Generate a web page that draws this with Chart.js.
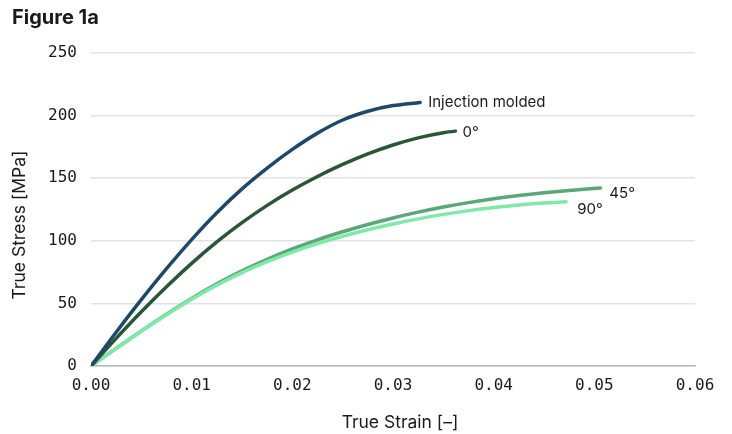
<!DOCTYPE html>
<html>
<head>
<meta charset="utf-8">
<script src="https://cdn.jsdelivr.net/npm/chart.js@4.4.0/dist/chart.umd.min.js"></script>
<style>
  body { margin: 0; background: #fff; }
  #wrap { width: 732px; height: 434px; }
</style>
</head>
<body>
<div id="wrap"><canvas id="fig" width="732" height="434"></canvas></div>
<script>
// true stress / true strain curves
const seriesNames = ['Injection molded', '0°', '45°', '90°'];

const injStrain = [0, 0.0025, 0.005, 0.0075, 0.01, 0.0125, 0.015, 0.0175, 0.02, 0.0225, 0.025, 0.0275, 0.03, 0.0327];
const injStress = [0, 27, 53, 77.75, 101, 122.4, 141.5, 158.1, 173, 186, 196.5, 203.5, 208, 210.5];

const deg0Strain = [0, 0.0025, 0.005, 0.0075, 0.01, 0.0125, 0.015, 0.0175, 0.02, 0.0225, 0.025, 0.0275, 0.03, 0.0325, 0.035, 0.0362];
const deg0Stress = [0, 22.1, 43.3, 63.3, 82, 99.1, 114.5, 128.3, 140.5, 151.4, 161, 169.4, 176.5, 182.2, 186.3, 187.6];

const deg45Strain = [0, 0.0025, 0.005, 0.0075, 0.01, 0.0125, 0.015, 0.0175, 0.02, 0.0225, 0.025, 0.0275, 0.03, 0.0325, 0.035, 0.0375, 0.04, 0.0425, 0.045, 0.0475, 0.0506];
const deg45Stress = [0, 14.1, 28, 41.4, 54, 65.6, 76, 85.25, 93.5, 100.8, 107.2, 113, 118.25, 122.9, 127, 130.5, 133.5, 136.1, 138.3, 140.2, 142.1];

const deg90Strain = [0, 0.0025, 0.005, 0.0075, 0.01, 0.0125, 0.015, 0.0175, 0.02, 0.0225, 0.025, 0.0275, 0.03, 0.0325, 0.035, 0.0375, 0.04, 0.0425, 0.045, 0.0472];
const deg90Stress = [0, 14, 27.8, 41, 53.4, 64.6, 74.6, 83.3, 91, 97.8, 103.6, 108.8, 113.4, 117.5, 121.1, 124.1, 126.6, 128.6, 130.1, 131.2];

const xTicks = [0, 0.01, 0.02, 0.03, 0.04, 0.05, 0.06];
const yTicks = [0, 50, 100, 150, 200, 250];

const colors = ['#1e4868', '#2b5537', '#5aa77a', '#7ee9a8'];
// lower order is painted on top, so 90° sits over 45° where they overlap
const drawOrder = [0, 1, 3, 2];
// where each end label sits relative to the last point
const labelOffsets = [[8, 0], [7, 1], [9, 5], [11, 8]];

function toPoints(xs, ys) {
  return xs.map((x, i) => ({ x: x, y: ys[i] }));
}

const curves = [
  toPoints(injStrain, injStress),
  toPoints(deg0Strain, deg0Stress),
  toPoints(deg45Strain, deg45Stress),
  toPoints(deg90Strain, deg90Stress)
];

const sans = 'Inter, "Noto Sans", sans-serif';
const mono = '"DejaVu Sans Mono", monospace';

const textPlugin = {
  id: 'figText',
  afterDraw(chart) {
    const ctx = chart.ctx;
    ctx.save();
    ctx.fillStyle = '#1a1a1a';

    // heading
    ctx.font = 'bold 20px ' + sans;
    ctx.textAlign = 'left';
    ctx.textBaseline = 'middle';
    ctx.fillText('Figure 1a', 12, 18);

    // axis titles
    ctx.font = '17.5px ' + sans;
    ctx.textAlign = 'center';
    ctx.fillText('True Strain [–]', 400, 423);
    ctx.save();
    ctx.translate(20, 225);
    ctx.rotate(-Math.PI / 2);
    ctx.fillText('True Stress [MPa]', 0, 0);
    ctx.restore();

    // labels at the end of each curve
    ctx.font = '15px ' + sans;
    ctx.textAlign = 'left';
    chart.data.datasets.forEach((ds, i) => {
      const last = ds.data[ds.data.length - 1];
      const px = chart.scales.x.getPixelForValue(last.x);
      const py = chart.scales.y.getPixelForValue(last.y);
      ctx.fillText(seriesNames[i], px + labelOffsets[i][0], py + labelOffsets[i][1]);
    });
    ctx.restore();
  }
};

new Chart(document.getElementById('fig'), {
  type: 'scatter',
  data: {
    datasets: curves.map((pts, i) => ({
      label: seriesNames[i],
      data: pts,
      order: drawOrder[i],
      showLine: true,
      borderColor: colors[i],
      backgroundColor: colors[i],
      borderWidth: 3.5,
      borderCapStyle: 'round',
      pointRadius: 0,
      cubicInterpolationMode: 'monotone'
    }))
  },
  options: {
    responsive: false,
    animation: false,
    layout: { padding: { left: 0, top: 53, right: 37, bottom: 0 } },
    plugins: {
      legend: { display: false },
      tooltip: { enabled: false }
    },
    scales: {
      x: {
        type: 'linear',
        min: 0,
        max: 0.06,
        afterFit(scale) { scale.height = 68; },
        afterBuildTicks(scale) { scale.ticks = xTicks.map(v => ({ value: v })); },
        grid: { display: false, drawTicks: false },
        border: { display: true, color: '#b8b8b8', width: 1.5 },
        ticks: {
          padding: 10,
          color: '#1a1a1a',
          font: { family: mono, size: 16 },
          callback: v => v.toFixed(2)
        }
      },
      y: {
        min: 0,
        max: 250,
        afterFit(scale) { scale.width = 91; },
        afterBuildTicks(scale) { scale.ticks = yTicks.map(v => ({ value: v })); },
        grid: { color: '#e2e2e2', lineWidth: 1.5, drawTicks: false },
        border: { display: false },
        ticks: {
          padding: 14,
          color: '#1a1a1a',
          font: { family: mono, size: 16 }
        }
      }
    }
  },
  plugins: [textPlugin]
});
</script>
</body>
</html>
